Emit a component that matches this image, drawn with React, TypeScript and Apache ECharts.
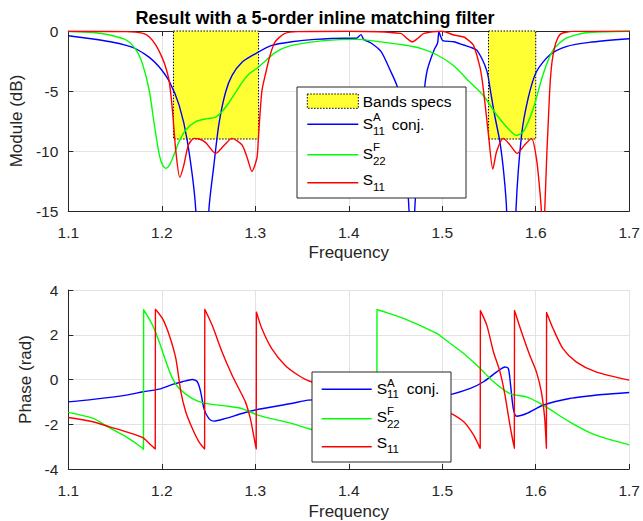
import React, { useEffect, useRef } from 'react';
import * as echarts from 'echarts';

// ---------- data ----------
const xTickLabels = ['1.1', '1.2', '1.3', '1.4', '1.5', '1.6', '1.7'];
const magTickLabels = ['0', '-5', '-10', '-15'];
const phaseTickLabels = ['-4', '-2', '0', '2', '4'];

const bandStart = [1.2125, 1.5495];
const bandEnd = [1.3035, 1.6];
const bandTopDb = [0, 0];
const bandBottomDb = [-9, -9];

// |S11A conj.| (dB)
const blueMagF = [1.1, 1.1265, 1.145, 1.162, 1.1726, 1.1867, 1.1973, 1.208, 1.2186, 1.2274, 1.2363, 1.243, 1.2504, 1.2557, 1.261, 1.2682, 1.2752, 1.2858, 1.3, 1.3176, 1.3389, 1.3637, 1.3955, 1.408, 1.4131, 1.416, 1.4238, 1.4344, 1.4433, 1.4532, 1.4645, 1.4675, 1.4705, 1.4808, 1.484, 1.4911, 1.495, 1.4964, 1.4985, 1.5005, 1.5123, 1.5229, 1.53, 1.537, 1.5476, 1.552, 1.556, 1.5618, 1.566, 1.5689, 1.574, 1.5788, 1.5848, 1.5919, 1.6007, 1.6149, 1.6326, 1.6573, 1.7];
const blueMagV = [-0.4, -0.67, -0.9, -1.2, -1.5, -2.2, -3.0, -4.2, -6.2, -9.2, -14.9, -30, -14.9, -11.2, -7.8, -5.1, -3.7, -2.6, -1.9, -1.2, -0.9, -0.7, -0.6, -0.6, -0.3, -0.7, -1.0, -1.7, -3.1, -5.0, -15, -28, -15, -5.0, -3.25, -1.6, -1.0, -0.05, -0.5, -0.8, -0.9, -1.17, -1.35, -1.6, -3.3, -5.2, -7.0, -9.3, -12, -15, -28, -15, -8.7, -5.6, -3.4, -2.0, -1.3, -0.95, -0.65];

// |S22F| (dB)
const greenMagF = [1.1, 1.1265, 1.1444, 1.162, 1.1726, 1.1796, 1.1867, 1.192, 1.1973, 1.201, 1.2045, 1.208, 1.2115, 1.2186, 1.2257, 1.2363, 1.2486, 1.257, 1.2645, 1.2716, 1.2858, 1.293, 1.3035, 1.3212, 1.3389, 1.3743, 1.4097, 1.4238, 1.4592, 1.4769, 1.4946, 1.5123, 1.53, 1.5442, 1.5583, 1.5724, 1.5795, 1.5866, 1.5972, 1.6079, 1.6185, 1.6326, 1.6538, 1.7];
const greenMagV = [-0.05, -0.12, -0.33, -0.75, -1.6, -2.8, -5.0, -7.8, -10.3, -11.2, -11.45, -11.2, -10.6, -9.2, -8.25, -7.55, -7.3, -7.2, -6.7, -6.0, -4.3, -3.6, -3.0, -1.8, -1.2, -0.8, -0.7, -0.8, -1.17, -1.45, -2.0, -2.9, -4.3, -5.4, -7.0, -8.3, -8.7, -8.4, -6.5, -3.6, -1.6, -0.6, -0.15, -0.02];

// |S11| (dB)
const redMagF = [1.1, 1.162, 1.18, 1.1867, 1.1938, 1.2008, 1.2045, 1.208, 1.2115, 1.215, 1.2193, 1.2235, 1.2285, 1.2345, 1.24, 1.247, 1.2575, 1.267, 1.275, 1.2858, 1.2915, 1.2964, 1.3017, 1.3035, 1.307, 1.3106, 1.3159, 1.3212, 1.3318, 1.345, 1.4, 1.4556, 1.462, 1.468, 1.474, 1.4805, 1.5, 1.5123, 1.523, 1.53, 1.5336, 1.5406, 1.5442, 1.5495, 1.5541, 1.5583, 1.5654, 1.5725, 1.5803, 1.588, 1.5955, 1.6007, 1.604, 1.606, 1.608, 1.6096, 1.6149, 1.6185, 1.6255, 1.64, 1.7];
const redMagV = [-0.02, -0.05, -0.2, -0.5, -1.2, -2.3, -3.1, -4.2, -6.7, -10.0, -12.2, -11.2, -9.5, -8.95, -9.0, -9.3, -10.2, -9.5, -8.95, -9.5, -10.6, -11.7, -10.6, -8.7, -5.05, -3.7, -2.0, -0.9, -0.2, -0.05, -0.02, -0.2, -0.6, -0.9, -0.6, -0.2, -0.02, -0.33, -0.5, -0.9, -1.2, -3.1, -5.0, -8.7, -11.5, -10.0, -8.95, -9.5, -10.2, -9.5, -8.95, -10.6, -13, -15, -22, -15, -5, -2, -0.33, -0.03, -0.01];

// phase S11A conj. (rad)
const bluePhF = [1.1, 1.1265, 1.162, 1.18, 1.1973, 1.2115, 1.222, 1.2327, 1.238, 1.2416, 1.2451, 1.2504, 1.2557, 1.2682, 1.2858, 1.3035, 1.3389, 1.3566, 1.4, 1.45, 1.5052, 1.53, 1.5442, 1.5583, 1.5671, 1.5707, 1.5731, 1.576, 1.5795, 1.5901, 1.6079, 1.6361, 1.6715, 1.7];
const bluePhV = [-1.0, -0.89, -0.7, -0.55, -0.43, -0.22, -0.1, 0.0, -0.1, -0.55, -1.3, -1.75, -1.86, -1.74, -1.52, -1.33, -1.07, -0.92, -0.84, -0.77, -0.7, -0.4, -0.1, 0.34, 0.56, 0.49, -0.25, -1.3, -1.64, -1.52, -1.15, -0.85, -0.67, -0.58];

// phase S22F (rad)
const greenPhF = [1.1, 1.1265, 1.1443, 1.162, 1.1726, 1.1796, 1.1804, 1.1806, 1.1902, 1.1973, 1.2045, 1.2115, 1.2186, 1.2327, 1.2469, 1.2682, 1.2858, 1.3035, 1.3389, 1.3566, 1.4, 1.43, 1.4302, 1.4592, 1.4946, 1.5017, 1.523, 1.5406, 1.5548, 1.5724, 1.59, 1.6079, 1.6361, 1.6644, 1.7];
const greenPhV = [-1.47, -1.74, -2.16, -2.56, -2.86, -3.08, -3.13, 3.13, 2.42, 1.68, 0.79, 0.04, -0.4, -0.85, -1.07, -1.18, -1.3, -1.6, -1.96, -2.19, -2.7, -3.13, 3.13, 2.72, 2.05, 1.83, 1.16, 0.49, -0.1, -0.63, -0.78, -1.15, -1.89, -2.49, -2.92];

// phase S11 (rad)
const redPhF = [1.1, 1.1265, 1.1443, 1.162, 1.1796, 1.1867, 1.193, 1.1932, 1.2008, 1.208, 1.215, 1.2204, 1.2257, 1.2327, 1.2398, 1.2458, 1.246, 1.2539, 1.2645, 1.2752, 1.2823, 1.2894, 1.2947, 1.2982, 1.301, 1.3012, 1.307, 1.3176, 1.3318, 1.346, 1.3584, 1.4, 1.45, 1.5052, 1.523, 1.5336, 1.5406, 1.5408, 1.5477, 1.5548, 1.5618, 1.5671, 1.5724, 1.5771, 1.5773, 1.5848, 1.5936, 1.6007, 1.606, 1.6096, 1.6114, 1.6116, 1.6185, 1.6291, 1.6432, 1.6644, 1.7];
const redPhV = [-1.7, -1.89, -2.12, -2.34, -2.6, -2.86, -3.11, 3.14, 2.72, 1.98, 0.94, -0.55, -1.45, -2.19, -2.79, -3.11, 3.14, 2.42, 1.23, 0.19, -0.4, -1.0, -1.74, -2.49, -3.11, 3.02, 2.28, 1.38, 0.64, 0.19, -0.08, -0.5, -0.95, -1.45, -1.89, -2.49, -3.08, 3.09, 2.42, 1.23, 0.34, -0.7, -2.04, -3.08, 3.09, 2.12, 1.08, 0.34, -0.55, -1.74, -3.08, 3.0, 2.28, 1.38, 0.79, 0.34, -0.03];

// ---------- styling ----------
const FONT = '"Liberation Sans", Arial, Helvetica, sans-serif';
const AX = '#262626';
const BLUE = '#0000ff';
const GREEN = '#00ff00';
const RED = '#ff0000';
const YELLOW = '#ffff33';
const TICK_FS = 15.5;
const NAME_FS = 17;
const LEG_FS = 15.5;
const SUB_FS = 11.5;

const zip = (f: number[], v: number[]) => f.map((x, i) => [x, v[i]]);

function txt(x: number, y: number, text: string, size: number) {
  return {
    type: 'text',
    z: 110,
    silent: true,
    style: {
      x, y, text,
      font: `${size}px ${FONT}`,
      fill: '#000',
      textAlign: 'left', align: 'left',
      textVerticalAlign: 'middle', verticalAlign: 'middle',
    },
  };
}

function seg(x1: number, x2: number, y: number, color: string) {
  return { type: 'line', z: 110, silent: true, shape: { x1, y1: y, x2, y2: y }, style: { stroke: color, lineWidth: 1.4 } };
}

function box(x: number, y: number, w: number, h: number) {
  return { type: 'rect', z: 105, silent: true, shape: { x, y, width: w, height: h }, style: { fill: '#fff', stroke: AX, lineWidth: 1 } };
}

function sEntry(x: number, yS: number, sup: string, sub: string, ySup: number, ySub: number, tail?: string, xTail?: number) {
  const els: any[] = [txt(x, yS, 'S', LEG_FS)];
  if (sup) els.push(txt(x + 10.2, ySup, sup, SUB_FS));
  if (sub) els.push(txt(x + 10.2, ySub, sub, SUB_FS));
  if (tail && xTail) els.push(txt(xTail, yS + 0.5, tail, LEG_FS));
  return els;
}

const xAxisBase = (gridIndex: number, gap: number) => ({
  type: 'value', gridIndex, min: 1.1, max: 1.7, interval: 0.1,
  axisLine: { show: true, onZero: false, lineStyle: { color: AX, width: 1 } },
  axisTick: { show: true, inside: true, length: 5, lineStyle: { color: AX } },
  axisLabel: {
    show: true, margin: 13, color: AX, fontSize: TICK_FS, fontFamily: FONT,
    showMinLabel: true, showMaxLabel: true,
    formatter: (v: number) => xTickLabels[Math.round((v - 1.1) * 10)] ?? '',
  },
  splitLine: { show: true, lineStyle: { color: '#e3e3e3', width: 1 } },
  name: 'Frequency', nameLocation: 'middle', nameGap: gap,
  nameTextStyle: { color: AX, fontSize: NAME_FS, fontFamily: FONT },
});

export default function App() {
  const ref = useRef<HTMLDivElement>(null);
  useEffect(() => {
    if (!ref.current) return;
    const chart = echarts.init(ref.current, undefined, { renderer: 'svg' });

    const legendTop: any[] = [
      box(297, 87, 169, 111),
      { type: 'rect', z: 110, silent: true, shape: { x: 307.3, y: 94, width: 51, height: 14.3 }, style: { fill: YELLOW, stroke: '#000', lineWidth: 1, lineDash: [1.5, 1.5] } },
      txt(362.7, 101, 'Bands specs', LEG_FS),
      seg(307.3, 358.3, 124.3, BLUE),
      ...sEntry(362.7, 123.5, 'A', '11', 117, 130.5, 'conj.', 391.7),
      seg(307.3, 358.3, 154.7, GREEN),
      ...sEntry(362.7, 153.3, 'F', '22', 146.7, 160.7),
      seg(307.3, 358.3, 182.7, RED),
      ...sEntry(362.7, 179.5, '', '11', 0, 186.5),
    ];
    const legendBottom: any[] = [
      box(312, 372, 139, 90),
      seg(321.7, 371.7, 389.3, BLUE),
      ...sEntry(376.7, 388.3, 'A', '11', 382.7, 394.3, 'conj.', 406.7),
      seg(321.7, 371.7, 418.7, GREEN),
      ...sEntry(376.7, 416.7, 'F', '22', 411, 424.3),
      seg(321.7, 371.7, 446.7, RED),
      ...sEntry(376.7, 442, '', '11', 0, 449.3),
    ];

    const lineSeries = (name: string, data: number[][], color: string, xi: number, yi: number, z: number, smooth: number) => ({
      name, type: 'line', xAxisIndex: xi, yAxisIndex: yi, data,
      showSymbol: false, symbol: 'none', z, clip: true,
      smooth,
      lineStyle: { color, width: 1.4 }, itemStyle: { color },
      emphasis: { disabled: true },
    });

    const option: any = {
      animation: false,
      backgroundColor: '#fff',
      textStyle: { fontFamily: FONT },
      title: {
        text: 'Result with a 5-order inline matching filter',
        left: 310, top: 4, textAlign: 'center',
        textStyle: { fontSize: 18, fontWeight: 'bold', color: '#000', fontFamily: FONT },
      },
      grid: [
        { left: 68.3, right: 9.5, top: 31, height: 180, containLabel: false },
        { left: 68.3, right: 9.5, top: 290, height: 179, containLabel: false },
      ],
      xAxis: [
        { ...xAxisBase(0, 32.5), position: 'bottom' },
        {
          type: 'value', gridIndex: 0, min: 1.1, max: 1.7, interval: 0.1, position: 'top',
          axisLine: { show: true, onZero: false, lineStyle: { color: AX, width: 1 } },
          axisTick: { show: true, inside: true, length: 5, lineStyle: { color: AX } },
          axisLabel: { show: false }, splitLine: { show: false },
        },
        { ...xAxisBase(1, 33.5), position: 'bottom' },
      ],
      yAxis: [
        {
          type: 'value', gridIndex: 0, min: -15, max: 0, interval: 5, position: 'left',
          axisLine: { show: true, onZero: false, lineStyle: { color: AX, width: 1 } },
          axisTick: { show: true, inside: true, length: 5, lineStyle: { color: AX } },
          axisLabel: {
            show: true, margin: 10, color: AX, fontSize: TICK_FS, fontFamily: FONT,
            showMinLabel: true, showMaxLabel: true,
            formatter: (v: number) => magTickLabels[Math.round(-v / 5)] ?? '',
          },
          splitLine: { show: true, lineStyle: { color: '#e3e3e3', width: 1 } },
          name: 'Module (dB)', nameLocation: 'middle', nameGap: 41.8,
          nameTextStyle: { color: AX, fontSize: NAME_FS, fontFamily: FONT },
        },
        {
          type: 'value', gridIndex: 0, min: -15, max: 0, interval: 5, position: 'right',
          axisLine: { show: true, onZero: false, lineStyle: { color: AX, width: 1 } },
          axisTick: { show: true, inside: true, length: 5, lineStyle: { color: AX } },
          axisLabel: { show: false }, splitLine: { show: false },
        },
        {
          type: 'value', gridIndex: 1, min: -4, max: 4, interval: 2, position: 'left',
          axisLine: { show: true, onZero: false, lineStyle: { color: AX, width: 1 } },
          axisTick: { show: true, inside: true, length: 5, lineStyle: { color: AX } },
          axisLabel: {
            show: true, margin: 10, color: AX, fontSize: TICK_FS, fontFamily: FONT,
            showMinLabel: true, showMaxLabel: true,
            formatter: (v: number) => phaseTickLabels[Math.round((v + 4) / 2)] ?? '',
          },
          splitLine: { show: true, lineStyle: { color: '#e3e3e3', width: 1 } },
          name: 'Phase (rad)', nameLocation: 'middle', nameGap: 31.8,
          nameTextStyle: { color: AX, fontSize: NAME_FS, fontFamily: FONT },
        },
      ],
      series: [
        {
          name: 'Bands specs', type: 'custom', xAxisIndex: 0, yAxisIndex: 0, z: 1, silent: true,
          data: bandStart.map((s, i) => [s, bandEnd[i], bandTopDb[i], bandBottomDb[i]]),
          encode: { x: [0, 1], y: [2, 3] },
          renderItem: (_p: any, api: any) => {
            const a = api.coord([api.value(0), api.value(2)]);
            const b = api.coord([api.value(1), api.value(3)]);
            return {
              type: 'rect',
              shape: { x: a[0], y: a[1], width: b[0] - a[0], height: b[1] - a[1] },
              style: { fill: YELLOW, stroke: '#000', lineWidth: 1, lineDash: [1.5, 1.5] },
            };
          },
        },
        lineSeries('S11A conj.', zip(blueMagF, blueMagV), BLUE, 0, 0, 2, 0.25),
        lineSeries('S22F', zip(greenMagF, greenMagV), GREEN, 0, 0, 3, 0.25),
        lineSeries('S11', zip(redMagF, redMagV), RED, 0, 0, 4, 0.25),
        lineSeries('S11A conj. phase', zip(bluePhF, bluePhV), BLUE, 2, 2, 2, 0.25),
        lineSeries('S22F phase', zip(greenPhF, greenPhV), GREEN, 2, 2, 3, 0.25),
        lineSeries('S11 phase', zip(redPhF, redPhV), RED, 2, 2, 4, 0.25),
      ],
      graphic: [...legendTop, ...legendBottom],
    };
    chart.setOption(option);
    return () => chart.dispose();
  }, []);
  return <div ref={ref} style={{ position: 'fixed', left: 0, top: 0, width: 643, height: 521 }} />;
}
